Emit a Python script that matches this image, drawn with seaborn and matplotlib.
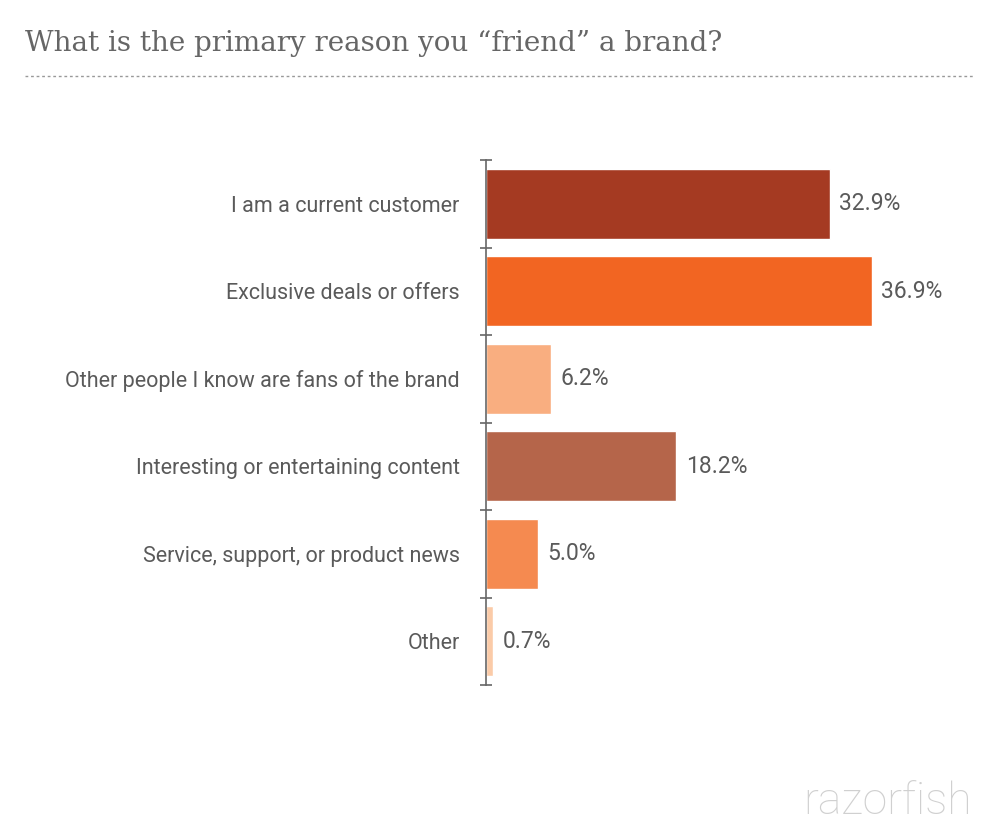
import matplotlib
matplotlib.use("Agg")
import matplotlib.pyplot as plt
import seaborn as sns
import numpy as np

categories = ["I am a current customer", "Exclusive deals or offers",
              "Other people I know are fans of the brand",
              "Interesting or entertaining content",
              "Service, support, or product news", "Other"]
values = [32.9, 36.9, 6.2, 18.2, 5.0, 0.7]
colors = ["#A53A22", "#F26522", "#F9AE80", "#B5654A", "#F58A50", "#FBCBA8"]

sns.set_style("white")
plt.rcParams["font.family"] = "Roboto"
fig = plt.figure(figsize=(10, 8.4), dpi=100)
ax = fig.add_axes([0.486, 0.1845, 0.502, 0.625])

sns.barplot(x=values, y=categories, hue=categories, palette=colors,
            legend=False, width=0.8, saturation=1, ax=ax, orient="h")
ax.set_xlim(0, 48)
ax.set_ylim(len(categories) - 0.5, -0.5)
ax.set_xlabel("")
ax.set_ylabel("")
for s in ["top", "right", "bottom"]:
    ax.spines[s].set_visible(False)
ax.spines["left"].set_color("#666666")
ax.spines["left"].set_linewidth(1.2)
ax.set_xticks([])
ax.set_yticks(np.arange(-0.5, len(categories)), minor=True)
ax.tick_params(axis="y", which="major", left=False, length=0, pad=19,
               labelsize=15.5, labelcolor="#5a5a5a")
ax.tick_params(axis="y", which="minor", left=True, length=8, width=1.2,
               color="#666666", direction="inout")
for i, v in enumerate(values):
    ax.text(v + 0.9, i, f"{v:.1f}%", va="center", ha="left",
            fontsize=16.5, color="#5a5a5a")

fig.text(0.025, 0.948, "What is the primary reason you \u201cfriend\u201d a brand?",
         family="DejaVu Serif", fontsize=20, color="#666666", va="center")
fig.add_artist(plt.Line2D([0.025, 0.975], [0.909, 0.909], color="#999999",
                          lw=1, ls=(0, (2, 2))))
fig.text(0.972, 0.045, "razorfish", fontsize=32, color="#D0D0D0",
         ha="right", va="center", fontweight="light")

fig.savefig("out.png", dpi=100)
